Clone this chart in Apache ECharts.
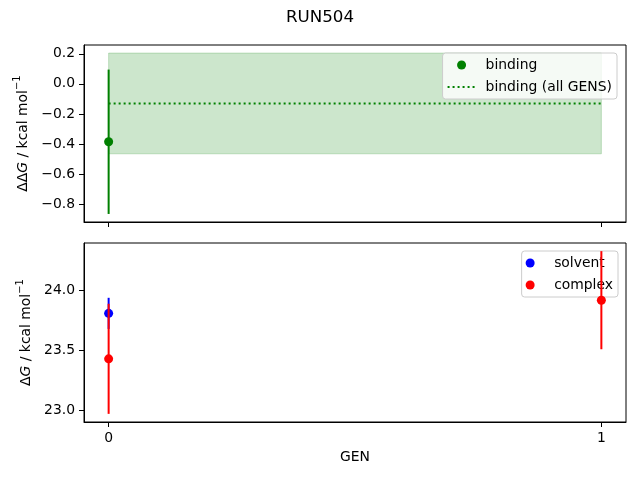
<!DOCTYPE html>
<html>
<head>
<meta charset="utf-8">
<script src="https://cdn.jsdelivr.net/npm/echarts@6/dist/echarts.min.js"></script>
<style>
  html, body { margin: 0; padding: 0; background: #fff; }
  #chart { width: 640px; height: 480px; }
</style>
</head>
<body>
<div id="chart"></div>
<script>
// values
const gens = [0, 1];
const bindingGens = [0];
const bindingValues = [-0.385];
const bindingErrors = [0.48];
const bindingAllValue = -0.13;
const bindingAllError = 0.335;
const solventGens = [0];
const solventValues = [23.81];
const solventErrors = [0.13];
const complexGens = [0, 1];
const complexValues = [23.43, 23.92];
const complexErrors = [0.46, 0.41];
const xTicks = [0, 1];
const topTicks = [0.2, 0.0, -0.2, -0.4, -0.6, -0.8];
const bottomTicks = [24.0, 23.5, 23.0];

const FONT = "DejaVu Sans";
const FS = 13.9;
const GREEN = "#008000";

// matplotlib-style 5% margins
function limits(lows, highs) {
  const lo = Math.min(...lows);
  const hi = Math.max(...highs);
  const pad = (hi - lo) * 0.05;
  return [lo - pad, hi + pad];
}

const topLim = limits(
  [...bindingValues.map((v, i) => v - bindingErrors[i]), bindingAllValue - bindingAllError],
  [...bindingValues.map((v, i) => v + bindingErrors[i]), bindingAllValue + bindingAllError]
);
const bottomLim = limits(
  [...solventValues.map((v, i) => v - solventErrors[i]), ...complexValues.map((v, i) => v - complexErrors[i])],
  [...solventValues.map((v, i) => v + solventErrors[i]), ...complexValues.map((v, i) => v + complexErrors[i])]
);
const xLim = limits([gens[0]], [gens[gens.length - 1]]);

const fmt = (d) => (v) => v.toFixed(d).replace("-", "\u2212");

function errorBarItem(params, api) {
  const a = api.coord([api.value(0), api.value(1)]);
  const b = api.coord([api.value(0), api.value(2)]);
  return {
    type: "line",
    shape: { x1: a[0], y1: a[1], x2: b[0], y2: b[1] },
    style: { stroke: api.visual("color"), lineWidth: 2 }
  };
}

function bandItem(params, api) {
  const p0 = api.coord([api.value(0), api.value(3)]);
  const p1 = api.coord([api.value(1), api.value(2)]);
  return {
    type: "rect",
    shape: { x: p0[0], y: p0[1], width: p1[0] - p0[0], height: p1[1] - p0[1] },
    style: { fill: "rgba(0,128,0,0.2)", stroke: "rgba(0,128,0,0.2)", lineWidth: 1 }
  };
}

const errData = (xs, vals, errs) => xs.map((x, i) => [x, vals[i] - errs[i], vals[i] + errs[i]]);
const ptData = (xs, vals) => xs.map((x, i) => [x, vals[i]]);

function xAxis(gridIndex, showLabels) {
  return {
    type: "value",
    gridIndex,
    min: xLim[0],
    max: xLim[1],
    splitLine: { show: false },
    axisLine: { show: true, onZero: false, lineStyle: { color: "#000", width: 1 } },
    axisTick: { show: true, length: 5, customValues: xTicks, lineStyle: { color: "#000" } },
    axisLabel: {
      show: showLabels,
      customValues: xTicks,
      margin: 9,
      color: "#000",
      fontFamily: FONT,
      fontSize: FS,
      formatter: fmt(0)
    },
    name: showLabels ? "GEN" : "",
    nameLocation: "middle",
    nameGap: 28,
    nameTextStyle: { color: "#000", fontFamily: FONT, fontSize: FS }
  };
}

const nameRich = {
  n: { fontFamily: FONT, fontSize: FS, color: "#000", lineHeight: 18, verticalAlign: "bottom" },
  i: { fontFamily: FONT, fontSize: FS, color: "#000", fontStyle: "italic", lineHeight: 18, verticalAlign: "bottom" },
  s: { fontFamily: FONT, fontSize: 10, color: "#000", lineHeight: 18, verticalAlign: "top" }
};

function yAxis(gridIndex, lim, ticks, name) {
  return {
    type: "value",
    gridIndex,
    min: lim[0],
    max: lim[1],
    splitLine: { show: false },
    axisLine: { show: true, onZero: false, lineStyle: { color: "#000", width: 1 } },
    axisTick: { show: true, length: 5, customValues: ticks, lineStyle: { color: "#000" } },
    axisLabel: {
      customValues: ticks,
      margin: 9,
      color: "#000",
      fontFamily: FONT,
      fontSize: FS,
      formatter: fmt(1)
    },
    name,
    nameLocation: "middle",
    nameRotate: 90,
    nameGap: 46,
    nameTextStyle: { rich: nameRich }
  };
}

const legendBase = {
  orient: "vertical",
  align: "left",
  itemWidth: 28,
  itemHeight: 9,
  itemGap: 6,
  padding: [4, 5, 4, 4],
  backgroundColor: "rgba(255,255,255,0.8)",
  borderColor: "#cccccc",
  borderWidth: 1,
  borderRadius: 3,
  textStyle: { fontFamily: FONT, fontSize: FS, color: "#000", lineHeight: 16, padding: [0, 0, 0, 5] }
};

const chart = echarts.init(document.getElementById("chart"), null, { renderer: "canvas" });
chart.setOption({
  animation: false,
  backgroundColor: "#fff",
  title: {
    text: "RUN504",
    left: "center",
    top: 4,
    textStyle: { fontFamily: FONT, fontSize: 16.7, fontWeight: "normal", color: "#000" }
  },
  grid: [
    { left: 84, right: 14, top: 45, height: 177, show: true, borderColor: "#000", borderWidth: 1, outerBoundsMode: "none" },
    { left: 84, right: 14, top: 243, height: 179, show: true, borderColor: "#000", borderWidth: 1, outerBoundsMode: "none" }
  ],
  xAxis: [xAxis(0, false), xAxis(1, true)],
  yAxis: [
    yAxis(0, topLim, topTicks, "{n|\u0394\u0394}{i|G}{n| / kcal mol}{s|\u22121}"),
    yAxis(1, bottomLim, bottomTicks, "{n|\u0394}{i|G}{n| / kcal mol}{s|\u22121}")
  ],
  legend: [
    Object.assign({}, legendBase, {
      right: 23,
      top: 53,
      data: [
        { name: "binding", icon: "circle" },
        { name: "binding (all GENS)", itemStyle: { opacity: 0 } }
      ]
    }),
    Object.assign({}, legendBase, {
      right: 22,
      top: 251,
      data: [{ name: "solvent", icon: "circle" }, { name: "complex", icon: "circle" }]
    })
  ],
  series: [
    {
      name: "binding band",
      type: "custom",
      xAxisIndex: 0,
      yAxisIndex: 0,
      renderItem: bandItem,
      encode: { x: [0, 1], y: [2, 3] },
      data: [[gens[0], gens[gens.length - 1], bindingAllValue - bindingAllError, bindingAllValue + bindingAllError]],
      z: 1
    },
    {
      name: "binding (all GENS)",
      type: "line",
      xAxisIndex: 0,
      yAxisIndex: 0,
      symbol: "none",
      color: GREEN,
      lineStyle: { color: GREEN, width: 2, type: [2, 3] },
      data: gens.map((g) => [g, bindingAllValue]),
      z: 2
    },
    {
      name: "binding err",
      type: "custom",
      xAxisIndex: 0,
      yAxisIndex: 0,
      color: GREEN,
      renderItem: errorBarItem,
      encode: { x: 0, y: [1, 2] },
      data: errData(bindingGens, bindingValues, bindingErrors),
      z: 3
    },
    {
      name: "binding",
      type: "scatter",
      xAxisIndex: 0,
      yAxisIndex: 0,
      color: GREEN,
      itemStyle: { opacity: 1 },
      symbolSize: 9,
      data: ptData(bindingGens, bindingValues),
      z: 4
    },
    {
      name: "solvent err",
      type: "custom",
      xAxisIndex: 1,
      yAxisIndex: 1,
      color: "#0000ff",
      renderItem: errorBarItem,
      encode: { x: 0, y: [1, 2] },
      data: errData(solventGens, solventValues, solventErrors),
      z: 3
    },
    {
      name: "solvent",
      type: "scatter",
      xAxisIndex: 1,
      yAxisIndex: 1,
      color: "#0000ff",
      itemStyle: { opacity: 1 },
      symbolSize: 9,
      data: ptData(solventGens, solventValues),
      z: 4
    },
    {
      name: "complex err",
      type: "custom",
      xAxisIndex: 1,
      yAxisIndex: 1,
      color: "#ff0000",
      renderItem: errorBarItem,
      encode: { x: 0, y: [1, 2] },
      data: errData(complexGens, complexValues, complexErrors),
      z: 5
    },
    {
      name: "complex",
      type: "scatter",
      xAxisIndex: 1,
      yAxisIndex: 1,
      color: "#ff0000",
      itemStyle: { opacity: 1 },
      symbolSize: 9,
      data: ptData(complexGens, complexValues),
      z: 6
    }
  ]
});
</script>
</body>
</html>
